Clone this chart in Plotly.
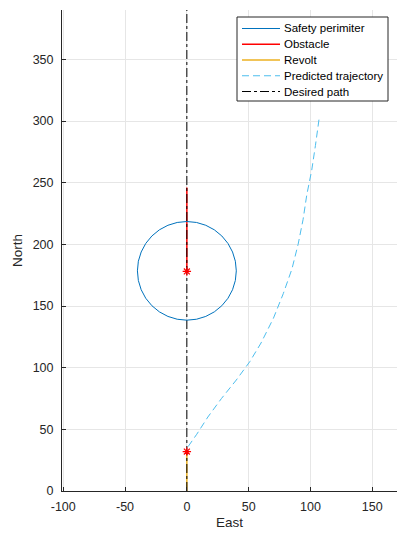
import plotly.graph_objects as go

# --- data ---
circle_center = (0, 178.5)
circle_radius = 40

obstacle_east = [0, 0]
obstacle_north = [178, 246]

revolt_east = [0, 0]
revolt_north = [0, 32]

pred_east = [1, 4, 8, 17, 28, 40, 51, 60, 70, 78, 85, 90, 94, 97, 101, 104, 107]
pred_north = [36, 40, 46, 60, 75, 90, 105, 120, 140, 160, 180, 200, 220, 240, 260, 280, 302]

desired_east = [0, 0]
desired_north = [0, 390]

marker_east = [0, 0]
marker_north = [178, 32]

x_ticks = [-100, -50, 0, 50, 100, 150]
x_ticktext = ["-100", "-50", "0", "50", "100", "150"]
y_ticks = [0, 50, 100, 150, 200, 250, 300, 350]
y_ticktext = ["0", "50", "100", "150", "200", "250", "300", "350"]

legend_names = ["Safety perimiter", "Obstacle", "Revolt", "Predicted trajectory", "Desired path"]

BLUE = "#0072BD"
RED = "#FF0000"
ORANGE = "#EDB120"
LBLUE = "#4DBEEE"

legend_styles = [
    dict(color=BLUE, width=1, dash="solid"),
    dict(color=RED, width=1.5, dash="solid"),
    dict(color=ORANGE, width=1.5, dash="solid"),
    dict(color=LBLUE, width=1, dash="7px,4px"),
    dict(color="black", width=1, dash="dashdot"),
]

W, H = 397, 537
ML, MR, MT, MB = 62, 0, 10, 46
PW, PH = W - ML - MR, H - MT - MB

def px_x(p):
    return (p - ML) / PW

def px_y(p):
    return (H - MB - p) / PH

fig = go.Figure()

fig.add_shape(type="circle", xref="x", yref="y",
              x0=circle_center[0] - circle_radius, x1=circle_center[0] + circle_radius,
              y0=circle_center[1] - circle_radius, y1=circle_center[1] + circle_radius,
              line=dict(color=BLUE, width=1))

fig.add_trace(go.Scatter(x=obstacle_east, y=obstacle_north, mode="lines", name=legend_names[1],
                         line=legend_styles[1], showlegend=False))
fig.add_trace(go.Scatter(x=revolt_east, y=revolt_north, mode="lines", name=legend_names[2],
                         line=legend_styles[2], showlegend=False))
fig.add_trace(go.Scatter(x=pred_east, y=pred_north, mode="lines", name=legend_names[3],
                         line=legend_styles[3], showlegend=False))
fig.add_trace(go.Scatter(x=desired_east, y=desired_north, mode="lines", name=legend_names[4],
                         line=legend_styles[4], showlegend=False))
fig.add_trace(go.Scatter(x=marker_east, y=marker_north, mode="markers", showlegend=False,
                         marker=dict(symbol="asterisk-open", size=7,
                                     line=dict(color=RED, width=1.2), color=RED)))

# custom legend (compact, MATLAB style)
box_l, box_r, box_t, box_b = 237, 388, 17, 101
fig.add_shape(type="rect", xref="paper", yref="paper",
              x0=px_x(box_l), x1=px_x(box_r), y0=px_y(box_b), y1=px_y(box_t),
              line=dict(color="#262626", width=1), fillcolor="white", layer="above")
row0, row_step = 28.5, 15.75
for i, (name, st) in enumerate(zip(legend_names, legend_styles)):
    yy = row0 + i * row_step
    fig.add_shape(type="line", xref="paper", yref="paper",
                  x0=px_x(242), x1=px_x(280), y0=px_y(yy), y1=px_y(yy),
                  line=st, layer="above")
    fig.add_annotation(text=name, xref="paper", yref="paper",
                       x=px_x(282), y=px_y(yy), xanchor="left", yanchor="middle",
                       showarrow=False, font=dict(size=11.5, color="black"))

fig.update_layout(
    width=W, height=H,
    margin=dict(l=ML, r=MR, t=MT, b=MB),
    plot_bgcolor="white", paper_bgcolor="white",
    font=dict(family="Liberation Sans, Arial, sans-serif", size=12.5, color="#262626"),
    showlegend=False,
)
fig.update_xaxes(range=[-101, 170], tickvals=x_ticks, ticktext=x_ticktext,
                 ticks="inside", ticklen=4, ticklabelstandoff=4,
                 tickcolor="#262626", showgrid=True, gridcolor="#e6e6e6", gridwidth=1,
                 showline=True, linecolor="#262626", linewidth=1, zeroline=False,
                 title=dict(text="East", font=dict(size=13.5), standoff=4))
fig.update_yaxes(range=[0, 390], tickvals=y_ticks, ticktext=y_ticktext,
                 ticks="inside", ticklen=4, ticklabelstandoff=5,
                 tickcolor="#262626", showgrid=True, gridcolor="#e6e6e6", gridwidth=1,
                 showline=True, linecolor="#262626", linewidth=1, zeroline=False,
                 title=dict(text="North", font=dict(size=13.5), standoff=6))

fig.write_html("out.html")
